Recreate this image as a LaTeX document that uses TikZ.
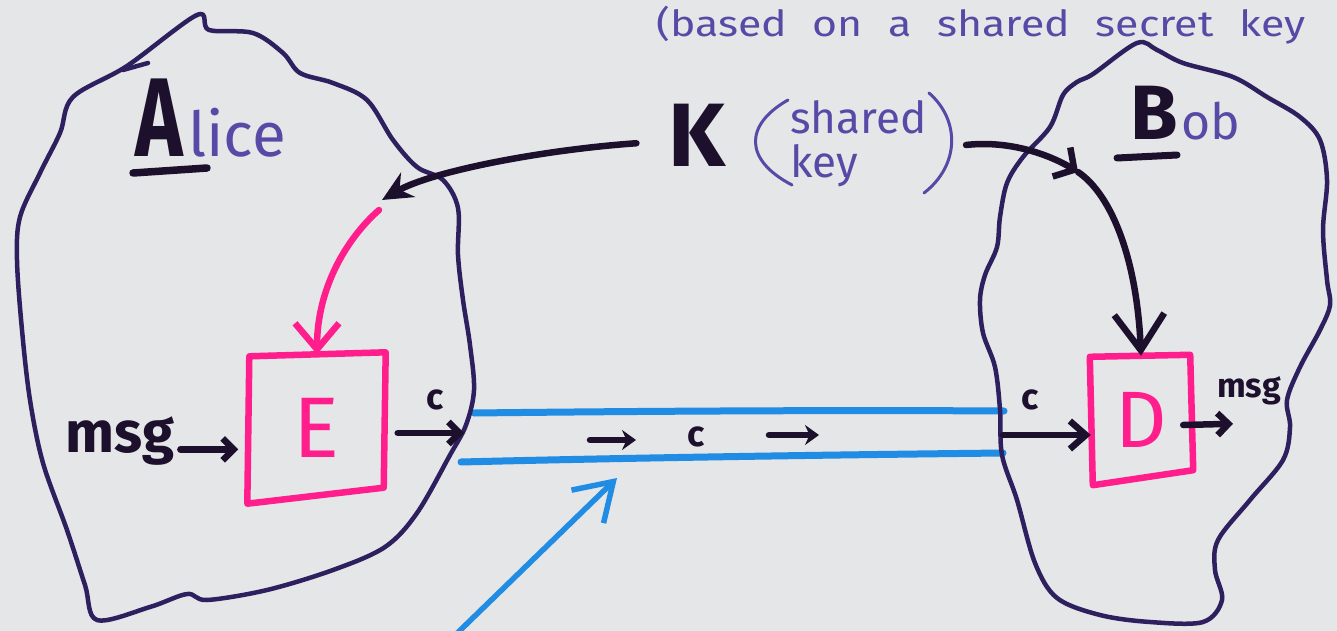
\documentclass[tikz,border=0pt]{standalone}
\usepackage{fontspec}
\usepackage{graphicx}
\setmainfont{Fira Sans}
\usetikzlibrary{arrows.meta,calc}

\definecolor{paper}{RGB}{229,230,232}
\definecolor{outline}{RGB}{46,32,94}
\definecolor{ink}{RGB}{28,16,44}
\definecolor{marker}{RGB}{255,30,140}
\definecolor{wire}{RGB}{32,140,228}
\definecolor{pen}{RGB}{86,74,166}

\newcommand\fsz[1]{\fontsize{#1}{#1}\selectfont}

\tikzset{
  blob/.style={draw=outline, line width=4.5pt, line join=round, line cap=round},
  inkline/.style={draw=ink, line width=6.5pt, line cap=round, line join=round},
  markerline/.style={draw=marker, line width=6.5pt, line cap=round, line join=round},
  wireline/.style={draw=wire, line width=7pt, line cap=round},
  penline/.style={draw=pen, line width=3pt, line cap=round},
  inktext/.style={text=ink, inner sep=0pt},
  pentext/.style={text=pen, inner sep=0pt},
  barbhead/.style={-{Straight Barb[length=11pt,width=22pt]}},
  dothead/.style={-{Stealth[length=14pt,width=20pt]}},
}

\begin{document}
\begin{tikzpicture}[x=1pt, y=-1pt]
\useasboundingbox (0,0) rectangle (1337,631);
\fill[paper] (0,0) rectangle (1337,631);
\clip (0,0) rectangle (1337,631);

% the insecure channel between the two domains
\coordinate (chTL) at (474,413);
\coordinate (chTR) at (1004,411);
\coordinate (chBL) at (461,462);
\coordinate (chBR) at (1003,453);
\draw[wireline] (chTL) .. controls (650,411) and (850,410) .. (chTR);
\draw[wireline] (chBL) .. controls (620,458) and (820,455) .. (chBR);

% Alice's domain
\draw[blob] plot[smooth cycle, tension=0.55] coordinates {
  (197,15) (209,30) (253,33) (283,53) (300,73) (333,83) (367,100) (393,140)
  (417,167) (443,180) (458,208) (458,255) (463,300) (470,345) (474,390)
  (466,425) (450,455) (417,513) (385,547) (333,570) (267,590) (207,600)
  (187,594) (150,607) (97,620) (85,585) (67,530) (43,463) (30,400) (22,330)
  (17,260) (20,217) (40,173) (60,133) (73,97) (127,66)};
\draw[blob] (123,70) -- (148,63);

% Bob's domain
\draw[blob] plot[smooth cycle, tension=0.55] coordinates {
  (1137,43) (1157,50) (1183,63) (1233,77) (1267,97) (1300,117) (1320,140)
  (1327,180) (1323,230) (1327,280) (1330,305) (1320,330) (1300,367) (1287,400)
  (1290,427) (1283,460) (1250,500) (1218,540) (1215,570) (1222,600) (1203,622)
  (1150,622) (1100,615) (1057,598) (1035,563) (1017,500) (1002,455) (1000,410)
  (995,367) (983,333) (980,300) (985,275) (997,247) (1000,217) (1007,183)
  (1023,157) (1050,127) (1063,95) (1077,82) (1093,74)};

% names
\node[inktext, anchor=base west, font=\fsz{112}\bfseries] (aliceA) at (135,157) {\scalebox{0.72}[1]{A}};
\node[pentext, anchor=base west, font=\fsz{62}] (alice) at ([xshift=5pt]aliceA.base east) {lice};
\draw[inkline, line width=7.5pt] ($(aliceA.base west)+(-2,16)$) -- ($(aliceA.base west)+(72,11)$);

\node[inktext, anchor=base west, font=\fsz{77}\bfseries] (bobB) at (1130,140) {B};
\node[pentext, anchor=base west, font=\fsz{50}] (bob) at ([xshift=3pt]bobB.base east) {ob};
\draw[inkline, line width=7pt] ($(bobB.base west)+(-13,18)$) -- ($(bobB.base west)+(47,15)$);

% note on the key
\node[pentext, anchor=base west] (note) at (656,37)
  {\scalebox{1.19}[1]{\fsz{36}\spaceskip=0.6em\relax(based on a shared secret key}};

% the shared key
\node[inktext, font=\fsz{90}\bfseries] (K) at (697,135) {K};
\node[pentext, anchor=north west, align=left, font=\fontsize{44}{44}\selectfont] (sk) at (790,100) {shared\\key};
\draw[penline] (788,100) .. controls (744,125) and (744,160) .. (792,185);
\draw[penline] (929,93) .. controls (960,120) and (960,165) .. (924,193);
\coordinate (keyout) at (966,145);
\coordinate (akey) at (382,200);
\coordinate (bkey) at (1078,172);

% encryption box
\node[text=marker, inner sep=0pt, font=\fsz{86}, minimum width=137pt, minimum height=147pt] (E) at (317,428) {E};
\draw[markerline] ($(E.north west)+(1,2)$) -- ($(E.north east)+(0,-2)$)
  -- ($(E.south east)+(-2,-14)$) -- ($(E.south west)+(-1,2)$) -- cycle;

% decryption box
\node[text=marker, inner sep=0pt, font=\fsz{80}, minimum width=100pt, minimum height=128pt] (D) at (1141,420) {D};
\draw[markerline] ($(D.north west)+(-1,1)$) -- ($(D.north east)+(-1,-1)$)
  -- ($(D.south east)+(2,-14)$) -- ($(D.south west)+(2,1)$) -- cycle;

% key distribution
\draw[inkline, -{Stealth[length=30pt,width=28pt]}, shorten <=32pt]
  ([yshift=-6pt]K.west) .. controls (540,150) and (430,172) .. (akey);
\draw[markerline, -{Straight Barb[length=26pt,width=44pt]}]
  ($(akey)+(-3,10)$) .. controls (345,240) and (317,290) .. (E.north);
\draw[inkline, -{Straight Barb[length=15pt,width=34pt]}]
  (keyout) .. controls (1010,140) and (1050,155) .. (bkey);
\draw[inkline, -{Straight Barb[length=36pt,width=50pt]}]
  (bkey) .. controls (1112,195) and (1137,260) .. (D.north);

% Alice side: message in, ciphertext out
\node[inktext, anchor=base west, font=\fsz{58}\bfseries] (msgA) at (65,452) {msg};
\draw[inkline, barbhead] ([xshift=6pt]msgA.mid east) -- ([xshift=-10pt]E.west |- msgA.mid east);
\coordinate (cA) at (464,433);
\node[inktext, font=\fsz{36}\bfseries] (cAl) at (435,400) {c};
\draw[inkline, barbhead] ([xshift=12pt]E.east |- cA) -- (cA);

% ciphertext travelling along the channel
\node[inktext, font=\fsz{36}\bfseries] (cmid) at (696,437) {c};
\draw[inkline, dothead] ($(cmid)+(-106,3)$) -- ($(cmid)+(-60,3)$);
\draw[inkline, dothead] ($(cmid)+(73,-2)$) -- ($(cmid)+(123,-2)$);

% pointer to the channel
\coordinate (ptrfoot) at (445,645);
\coordinate (ptrtip) at (617,478);
\draw[wireline, line width=5.5pt, -{Straight Barb[length=36pt,width=46pt]}] (ptrfoot) -- (ptrtip);

% Bob side: ciphertext in, message out
\coordinate (cB) at (1003,435);
\node[inktext, font=\fsz{36}\bfseries] (cBl) at (1030,400) {c};
\draw[inkline, -{Straight Barb[length=16pt,width=28pt]}] (cB) -- (D.west |- cB);
\node[inktext, anchor=base west, font=\fsz{34}\bfseries] (msgB) at (1217,397) {msg};
\draw[inkline, barbhead] ($(D.east)+(-8,5)$) -- ($(msgB.south west)+(16,19)$);
\end{tikzpicture}
\end{document}
